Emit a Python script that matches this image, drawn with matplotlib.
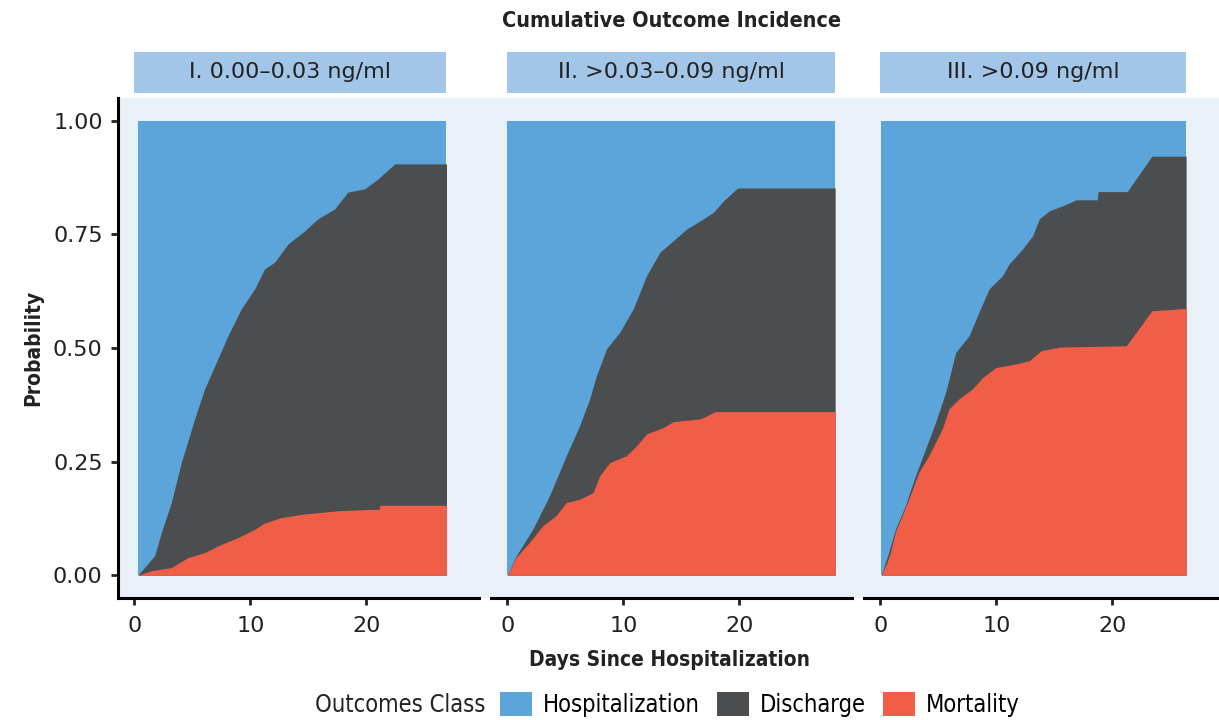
import matplotlib
matplotlib.use("Agg")
import matplotlib.pyplot as plt
from matplotlib.patches import Rectangle, Patch
import numpy as np

# cumulative incidence (days, probability)
# "top" = mortality + discharge, "red" = mortality
p1_top_t = [0.3, 1.75, 2.33, 3.19, 4.05, 5.2, 6.06, 7.2, 8.07, 9.22, 10.37, 11.23, 12.1, 13.25, 14.7, 15.8, 17.27, 18.4, 19.85, 21.0, 22.44, 26.9]
p1_top_v = [0, 0.043, 0.094, 0.160, 0.248, 0.344, 0.41, 0.476, 0.527, 0.586, 0.63, 0.674, 0.689, 0.729, 0.758, 0.784, 0.806, 0.843, 0.850, 0.872, 0.905, 0.905]
p1_red_t = [0.3, 1.47, 3.19, 4.63, 6.06, 7.5, 8.94, 10.37, 11.23, 12.67, 14.4, 17.56, 20.4, 21.1, 21.15, 26.9]
p1_red_v = [0, 0.01, 0.017, 0.039, 0.05, 0.068, 0.083, 0.101, 0.115, 0.127, 0.134, 0.142, 0.145, 0.145, 0.154, 0.154]

p2_top_t = [0, 0.75, 2.19, 3.64, 5.08, 6.23, 7.1, 7.68, 8.55, 9.7, 10.85, 12.0, 13.16, 14.3, 15.47, 16.9, 17.78, 18.64, 19.85, 28.25]
p2_top_v = [0, 0.042, 0.101, 0.175, 0.263, 0.329, 0.388, 0.439, 0.498, 0.535, 0.586, 0.659, 0.711, 0.736, 0.762, 0.784, 0.799, 0.824, 0.852, 0.852]
p2_red_t = [0, 0.75, 1.9, 3.06, 4.2, 5.08, 6.23, 7.39, 7.97, 8.83, 10.27, 11.14, 12.0, 13.45, 14.3, 16.6, 17.06, 17.9, 28.25]
p2_red_v = [0, 0.039, 0.072, 0.109, 0.131, 0.160, 0.167, 0.182, 0.219, 0.248, 0.263, 0.285, 0.311, 0.325, 0.338, 0.344, 0.349, 0.360, 0.360]

p3_top_t = [0.09, 0.72, 1.3, 2.16, 3.03, 3.9, 4.76, 5.63, 6.5, 7.65, 8.51, 9.38, 10.53, 11.1, 12.26, 13.13, 13.7, 14.57, 15.73, 16.88, 18.7, 18.76, 21.27, 23.4, 26.35]
p3_top_v = [0, 0.05, 0.101, 0.153, 0.219, 0.278, 0.336, 0.402, 0.49, 0.527, 0.579, 0.63, 0.659, 0.685, 0.718, 0.747, 0.784, 0.802, 0.813, 0.826, 0.826, 0.844, 0.844, 0.922, 0.922]
p3_red_t = [0.09, 0.58, 0.87, 1.3, 1.88, 2.45, 3.32, 4.18, 5.34, 5.92, 6.78, 7.94, 8.81, 9.96, 11.7, 12.84, 13.85, 15.44, 21.2, 23.4, 26.35]
p3_red_v = [0, 0.028, 0.05, 0.095, 0.131, 0.167, 0.226, 0.263, 0.322, 0.366, 0.388, 0.41, 0.435, 0.457, 0.465, 0.472, 0.494, 0.502, 0.505, 0.582, 0.587]

panel_titles = ["I. 0.00\u20130.03 ng/ml", "II. >0.03\u20130.09 ng/ml", "III. >0.09 ng/ml"]
classes = ["Hospitalization", "Discharge", "Mortality"]
x_ticks = [0, 10, 20]
y_ticks = [0.0, 0.25, 0.5, 0.75, 1.0]
y_ticklabels = ["0.00", "0.25", "0.50", "0.75", "1.00"]

c_hosp = "#5ba5da"
c_dis = "#4c4d4f"
c_mort = "#f05e48"
c_bg = "#eaf0f8"
c_strip = "#a2c5e8"
c_text = "#222222"

plt.rcParams["font.family"] = ["DejaVu Sans"]

panels = [
    (p1_top_t, p1_top_v, p1_red_t, p1_red_v),
    (p2_top_t, p2_top_v, p2_red_t, p2_red_v),
    (p3_top_t, p3_top_v, p3_red_t, p3_red_v),
]

W, H = 1219, 720
fig = plt.figure(figsize=(W / 100, H / 100), dpi=100)

left = 118 / W
bottom = (H - 598) / H
height = 500 / H
width = 361 / W
pitch = 373 / W

fig.patches.append(Rectangle((left, bottom), 1 - left, height, transform=fig.transFigure,
                             facecolor=c_bg, edgecolor="none", zorder=-1))

for i, (tt, tv, rt, rv) in enumerate(panels):
    ax = fig.add_axes([left + i * pitch, bottom, width, height])
    ax.set_facecolor("none")
    t0, t1 = tt[0], tt[-1]
    ax.fill_between([t0, t1], 0, 1, color=c_hosp, linewidth=0)
    ax.fill_between(tt, 0, tv, color=c_dis, linewidth=0)
    ax.fill_between(rt, 0, rv, color=c_mort, linewidth=0)

    ax.set_xlim(-1.4, 29.7)
    ax.set_ylim(-0.05, 1.05)
    for s in ["top", "right"]:
        ax.spines[s].set_visible(False)
    ax.spines["bottom"].set_linewidth(2.2)
    ax.spines["left"].set_linewidth(2.2)
    ax.set_xticks(x_ticks)
    ax.tick_params(axis="both", width=2, length=5, labelsize=16, colors=c_text, pad=6)
    ax.tick_params(axis="x", pad=8)
    if i == 0:
        ax.set_yticks(y_ticks)
        ax.set_yticklabels(y_ticklabels)
    else:
        ax.spines["left"].set_visible(False)
        ax.set_yticks([])

    # strip header spanning the data range
    ax.add_patch(Rectangle((0, 1.01), t1, 0.082, transform=ax.get_xaxis_transform(),
                           facecolor=c_strip, edgecolor="none", clip_on=False))
    ax.text(t1 / 2, 1.051, panel_titles[i], transform=ax.get_xaxis_transform(),
            ha="center", va="center", fontsize=16, color=c_text)

fig.text(0.551, 0.971, "Cumulative Outcome Incidence", ha="center", va="center",
         fontsize=15.5, fontweight="bold", fontstretch="condensed", color=c_text)
fig.text(0.549, 0.083, "Days Since Hospitalization", ha="center", va="center",
         fontsize=15, fontweight="bold", fontstretch="condensed", color=c_text)
fig.text(0.027, 0.517, "Probability", ha="center", va="center", rotation=90,
         fontsize=15, fontweight="bold", fontstretch="condensed", color=c_text)

fig.text(0.398, 0.021, "Outcomes Class", ha="right", va="center",
         fontsize=17, fontstretch="condensed", color=c_text)
handles = [Patch(facecolor=c, edgecolor="none", label=l) for c, l in zip([c_hosp, c_dis, c_mort], classes)]
fig.legend(handles=handles, ncol=3, loc="center left", bbox_to_anchor=(0.41, 0.021), frameon=False,
           prop={"size": 17, "stretch": "condensed"}, handlelength=1.36, handleheight=1.19,
           handletextpad=0.47, columnspacing=0.72, borderaxespad=0, borderpad=0)

fig.savefig("out.png", dpi=100)
